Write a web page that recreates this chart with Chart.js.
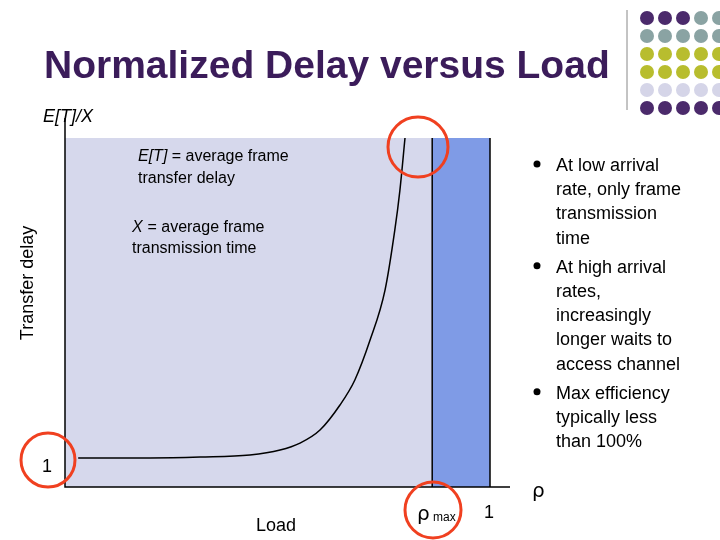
<!DOCTYPE html><html><head><script src="https://cdn.jsdelivr.net/npm/chart.js@4"></script>
<style>body{margin:0;background:#fff}#w{width:720px;height:540px}</style></head><body><div id="w"><canvas id="c"></canvas></div>
<script>
const loadX=[0.031,0.2,0.318,0.435,0.506,0.553,0.6,0.647,0.682,0.718,0.753,0.776,0.788,0.8];
const delayY=[1.0,1.0,1.03,1.10,1.27,1.51,1.96,2.82,3.68,5.06,6.77,8.83,10.2,12.0];
const rhoMax=0.864;
const bullets=[["At low arrival","rate, only frame","transmission","time"],["At high arrival","rates,","increasingly","longer waits to","access channel"],["Max efficiency","typically less","than 100%"]];
const dotColors=["#4b2a6b","#8aa3a3","#b8bd2e","#d5d5e8"];
const deco={id:'deco',beforeDatasetsDraw(ch){const {ctx,chartArea:a,scales:{x,y}}=ch;ctx.save();
ctx.fillStyle='#d6d8ec';ctx.fillRect(a.left,a.top,x.getPixelForValue(rhoMax)-a.left,a.bottom-a.top);
ctx.fillStyle='#7f9be6';ctx.fillRect(x.getPixelForValue(rhoMax),a.top,x.getPixelForValue(1)-x.getPixelForValue(rhoMax),a.bottom-a.top);
ctx.strokeStyle='#000';ctx.lineWidth=1.5;ctx.beginPath();
ctx.moveTo(a.left,118);ctx.lineTo(a.left,a.bottom);ctx.lineTo(510,a.bottom);
[rhoMax,1].forEach(v=>{const p=x.getPixelForValue(v);ctx.moveTo(p,a.top);ctx.lineTo(p,a.bottom)});ctx.stroke();ctx.restore();},
afterDraw(ch){const {ctx,scales:{x,y}}=ch;ctx.save();
ctx.fillStyle='#3b1c5a';ctx.font='bold 39px Arial, Liberation Sans';ctx.textAlign='left';ctx.fillText('Normalized Delay versus Load',44,78);
ctx.strokeStyle='#888';ctx.lineWidth=1;ctx.beginPath();ctx.moveTo(627,10);ctx.lineTo(627,110);ctx.stroke();
for(let r=0;r<6;r++)for(let c=0;c<5;c++){const cx=647+c*18,cy=18+r*18;ctx.fillStyle=dotColors[(r>2?(r-1):r)%4];if(r==0&&c>2)ctx.fillStyle=dotColors[1];ctx.beginPath();ctx.arc(cx,cy,7,0,7);ctx.fill();}
ctx.fillStyle='#000';ctx.textAlign='left';ctx.font='italic 18px Arial, Liberation Sans';ctx.fillText('E[T]/X',43,122);
ctx.font='italic 16px Arial, Liberation Sans';ctx.fillText('E[T]',138,161);ctx.fillText('X',132,232);
ctx.font='16px Arial, Liberation Sans';ctx.fillText(' = average frame',138+ctx.measureText('E[T]').width,161);ctx.fillText('transfer delay',138,183);
ctx.fillText(' = average frame',143,232);ctx.fillText('transmission time',132,253);
ctx.font='18px Arial, Liberation Sans';ctx.fillText('1',42,472);ctx.fillText('Load',256,531);ctx.fillText('1',484,518);
ctx.font='20px Symbol, DejaVu Sans';ctx.fillText('ρ',417,520);ctx.fillText('ρ',532,497);ctx.font='12px Arial';ctx.fillText('max',433,521);
ctx.save();ctx.translate(33,283);ctx.rotate(-Math.PI/2);ctx.textAlign='center';ctx.font='18px Arial, Liberation Sans';ctx.fillText('Transfer delay',0,0);ctx.restore();
let yy=171;ctx.font='18px Arial, Liberation Sans';ctx.textAlign='left';
bullets.forEach(b=>{ctx.beginPath();ctx.arc(537,yy-7,3.5,0,7);ctx.fill();b.forEach(l=>{ctx.fillText(l,556,yy);yy+=24.2;});yy+=5;});
ctx.strokeStyle='#f04020';ctx.lineWidth=3;[[418,147,30],[48,460,27],[433,510,28]].forEach(([cx,cy,r])=>{ctx.beginPath();ctx.arc(cx,cy,r,0,7);ctx.stroke();});
ctx.restore();}};
new Chart(document.getElementById('c'),{type:'scatter',data:{datasets:[{data:loadX.map((v,i)=>({x:v,y:delayY[i]})),showLine:true,borderColor:'#000',borderWidth:1.5,pointRadius:0,tension:0.4,cubicInterpolationMode:'monotone'}]},
options:{responsive:true,maintainAspectRatio:false,animation:false,events:[],layout:{padding:{left:65,right:230,top:138,bottom:53}},
plugins:{legend:{display:false},tooltip:{enabled:false}},scales:{x:{type:'linear',min:0,max:1,display:false},y:{min:0,max:12,display:false}}},plugins:[deco]});
</script></body></html>
